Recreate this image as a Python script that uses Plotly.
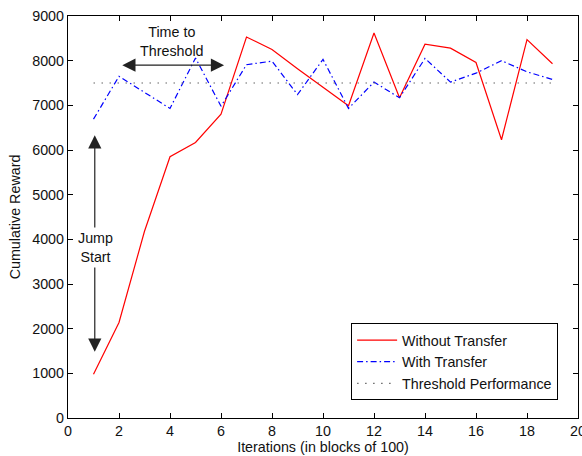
import plotly.graph_objects as go

# Iteration blocks (each block = 100 iterations)
iterations = list(range(1, 20))

# Cumulative reward per block
without_transfer = [980, 2140, 4180, 5850, 6170, 6800, 8530, 8250, 7820, 7410,
                    6990, 8620, 7170, 8370, 8280, 7960, 6230, 8470, 7930]
with_transfer = [6690, 7650, 7290, 6930, 8060, 6980, 7910, 7990, 7240, 8030,
                 6930, 7520, 7170, 8050, 7520, 7720, 8000, 7750, 7580]
threshold = [7500] * len(iterations)

x_ticks = list(range(0, 21, 2))
y_ticks = list(range(0, 9001, 1000))

FONT = "Liberation Sans, Arial, Helvetica, sans-serif"
FS = 14.3
TXT = "#111111"

fig = go.Figure()

fig.add_trace(go.Scatter(
    x=iterations, y=without_transfer, mode="lines", name="Without Transfer",
    line=dict(color="#ff0000", width=1.2),
))
fig.add_trace(go.Scatter(
    x=iterations, y=with_transfer, mode="lines", name="With Transfer",
    line=dict(color="#0000ff", width=1.2, dash="6px,3px,1.5px,3px"),
))
fig.add_trace(go.Scatter(
    x=iterations, y=threshold, mode="lines", name="Threshold Performance",
    line=dict(color="#666666", width=1.2, dash="1.5px,6.5px"),
))

arrow_style = dict(
    showarrow=True, arrowhead=2, startarrowhead=2, arrowside="end+start",
    arrowsize=2.2, startarrowsize=2.2, arrowwidth=1.2, arrowcolor="#222222",
    axref="x", ayref="y", xref="x", yref="y", text="",
)

# "Time to Threshold" horizontal double arrow
fig.add_annotation(x=6.12, y=7900, ax=2.07, ay=7900, **arrow_style)
fig.add_annotation(
    x=4.08, y=8420, xref="x", yref="y", showarrow=False,
    text="Time to<br>Threshold", font=dict(family=FONT, size=FS, color=TXT),
    align="center",
)

# "Jump Start" vertical double arrow
fig.add_annotation(x=1.05, y=6330, ax=1.05, ay=1450, **arrow_style)
fig.add_annotation(
    x=1.07, y=3810, xref="x", yref="y", showarrow=False,
    text="Jump<br>Start", font=dict(family=FONT, size=FS, color=TXT),
    align="center", bgcolor="white", borderpad=2,
)

axis_common = dict(
    showline=True, linecolor="black", linewidth=1.2, mirror="ticks",
    ticks="inside", ticklen=5, tickcolor="black", showgrid=False, zeroline=False,
    tickfont=dict(family=FONT, size=FS, color=TXT),
    ticklabeloverflow="allow", automargin=False,
)

fig.update_xaxes(
    range=[0, 20], tickvals=x_ticks,
    title=dict(text="Iterations (in blocks of 100)", font=dict(family=FONT, size=FS, color=TXT), standoff=3),
    **axis_common,
)
fig.update_yaxes(
    range=[0, 9000], tickvals=y_ticks,
    title=dict(text="Cumulative Reward", font=dict(family=FONT, size=FS, color=TXT), standoff=8),
    **axis_common,
)

fig.update_layout(
    width=582, height=456,
    margin=dict(l=68, r=4, t=16, b=38, autoexpand=False),
    paper_bgcolor="white", plot_bgcolor="white",
    font=dict(family=FONT, size=FS, color=TXT),
    showlegend=True,
    legend=dict(
        x=0.961, y=0.044, xanchor="right", yanchor="bottom",
        bgcolor="white", bordercolor="black", borderwidth=1,
        font=dict(family=FONT, size=FS, color=TXT),
        tracegroupgap=0, itemwidth=40,
    ),
)

fig.write_html("out.html")
